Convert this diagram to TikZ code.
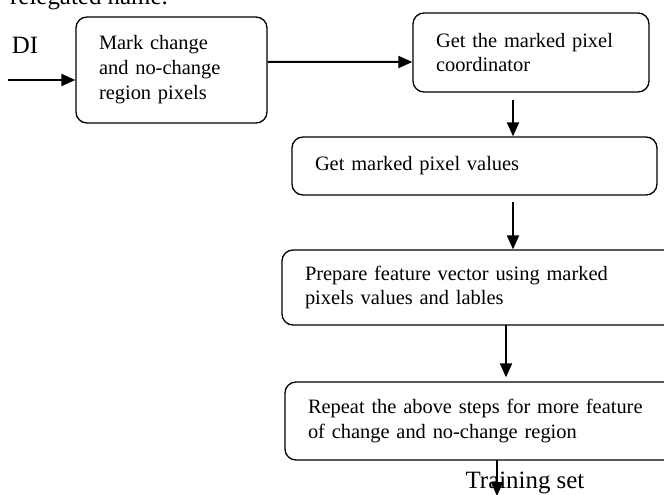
\documentclass[tikz,border=0pt]{standalone}
\usepackage{fontspec}
\setmainfont{Liberation Serif}
\usetikzlibrary{positioning}
\usetikzlibrary{arrows.meta}

\begin{document}
\begin{tikzpicture}	[
		x=1bp, y=-1bp,
		stepbox/.style={draw, line width=1.3bp, rounded corners=11bp, align=left,
			inner xsep=23bp, inner ysep=0pt, font=\fontsize{20.5}{25}\selectfont},
		flow/.style={line width=2bp, -{Triangle[length=14bp,width=12bp]}},
		lbl/.style={font=\fontsize{25}{30}\selectfont, inner sep=0pt}
	]
		\clip (0,0) rectangle (664,495);
		\useasboundingbox (0,0) rectangle (664,495);
		% boxes
		\node[stepbox, minimum width=191bp, minimum height=106bp, text width=145bp] (mark) at (171.5,70)
			{Mark change\\and no-change\\region pixels};
		\node[stepbox, minimum width=236bp, minimum height=79bp, text width=190bp] (coord) at (531,52.5)
			{Get the marked pixel\\coordinator};
		\node[stepbox, minimum width=365bp, minimum height=58bp, text width=319bp] (values) at (474.5,166)
			{Get marked pixel values};
		\node[stepbox, minimum width=400bp, minimum height=75bp, text width=354bp] (feature) at (482,287.5)
			{Prepare feature vector using marked\\pixels values and lables};
		\node[stepbox, minimum width=397bp, minimum height=78bp, text width=351bp] (repeat) at (483.5,421)
			{Repeat the above steps for more feature\\of change and no-change region};
		% texts
		\node[lbl, anchor=base west] (page) at (10,5) {relegated name.};
		\node[lbl] (di) at (25,45) {DI};
		\node[lbl] (tset) at (525,483) {Training set};
		% arrows
		\coordinate (din) at (8,80);
		\coordinate (a2) at (513,100);
		\coordinate (a3) at (513,202);
		\coordinate (a4) at (506,325);
		\coordinate (a5) at (497,460);
		\coordinate (aout) at (497,496);
		\draw[flow] (din) -- (din -| mark.west);
		\draw[flow] ([yshift=8bp]mark.east) -- ([yshift=-9.5bp]coord.west);
		\draw[flow] (a2) -- (a2 |- values.north);
		\draw[flow] (a3) -- (a3 |- feature.north);
		\draw[flow] (a4) -- ([yshift=4bp]a4 |- repeat.north);
		\draw[flow] (a5) -- (aout);
	\end{tikzpicture}
\end{document}
